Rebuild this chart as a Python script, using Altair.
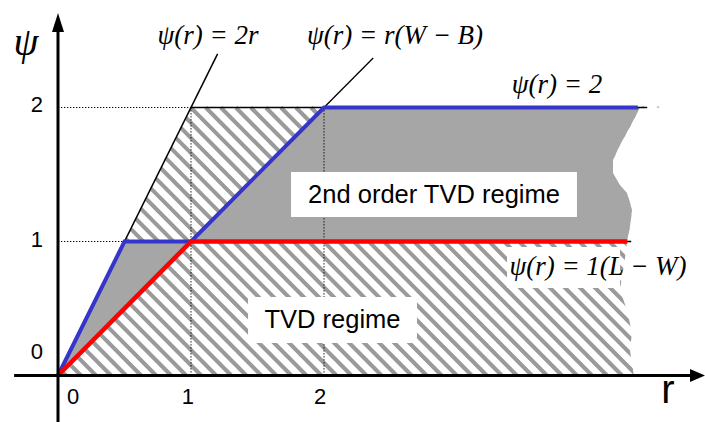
import numpy as np
import pandas as pd
import altair as alt

# ---- data (r, psi) ----------------------------------------------------------
# Sweby diagram: limiter bounds
blue_r = [0.0, 0.5, 1.0, 2.0, 4.36]      # upper bound  psi = r(W-B)
blue_psi = [0.0, 1.0, 1.0, 2.0, 2.0]
red_r = [0.0, 1.0, 4.28]                 # lower bound  psi = 1(L-W)
red_psi = [0.0, 1.0, 1.0]

two_r_r = [0.0, 1.2]                     # psi = 2r guide line
two_r_psi = [0.0, 2.4]
top_r = [1.0, 4.43]                      # psi = 2 guide line
top_psi = [2.0, 2.0]
one_r = [1.0, 4.31]                      # psi = 1 guide line (under red)
one_psi = [1.0, 1.0]
lead_r = [2.0, 2.37]                     # leader towards the r(W-B) label
lead_psi = [2.0, 2.37]

# torn right-hand edge of the shaded regions
edge_psi = [2.0, 1.854, 1.72, 1.608, 1.511, 1.422, 1.362, 1.235, 1.108, 1.0,
            0.85, 0.638, 0.489, 0.317, 0.19, 0.0]
edge_r = [4.376, 4.30, 4.225, 4.173, 4.173, 4.225, 4.278, 4.316, 4.30, 4.278,
          4.26, 4.225, 4.278, 4.316, 4.30, 4.33]

tick_values = [0, 1, 2]
tick_labels = ["0", "1", "2"]

# ---- layout -----------------------------------------------------------------
W, H = 705, 422
OX, OY = 58.0, 375.5          # pixel position of the origin
SX, SY = 133.0, 134.0         # pixels per unit
XDOM = [-OX / SX, (W - OX) / SX]
YDOM = [(OY - H) / SY, OY / SY]

xs = alt.Scale(domain=XDOM, nice=False, zero=False)
ys = alt.Scale(domain=YDOM, nice=False, zero=False)


def X(f):
    return alt.X(f, type="quantitative", scale=xs, axis=None)


def Y(f):
    return alt.Y(f, type="quantitative", scale=ys, axis=None)


# ---- hatching of the TVD region (0 <= psi <= min(2r, 2)) ---------------------
HATCH_STEP = 0.113
cs = np.arange(0.06, 6.6, HATCH_STEP)
hatch = pd.DataFrame({
    "r": cs,
    "psi": 0.0,
    "r2": np.where(cs <= 3, cs / 3, cs - 2),
    "psi2": np.where(cs <= 3, 2 * cs / 3, 2.0),
})
hatch_layer = alt.Chart(hatch).mark_rule(color="#9a9a9a", strokeWidth=4, strokeCap="butt").encode(
    x=X("r"), y=Y("psi"), x2="r2", y2="psi2")

# white area right of the torn edge
mask = pd.DataFrame({"psi": edge_psi, "r": edge_r, "r_far": XDOM[1] + 0.1})
mask_layer = alt.Chart(mask).mark_area(orient="horizontal", color="white", opacity=1).encode(
    y=Y("psi"), x=X("r"), x2="r_far")

# ---- second order region between the blue and red bounds ---------------------
low_st = pd.DataFrame({"psi": [blue_psi[0], blue_psi[1]],
                       "r": [blue_r[0], blue_r[1]],
                       "r2": [red_r[0], red_r[1]]})
up_idx = [i for i, p in enumerate(edge_psi) if p >= 1.0]
up_st = pd.DataFrame({"psi": [edge_psi[i] for i in up_idx],
                      "r": [edge_psi[i] for i in up_idx],   # blue bound r = psi on [1, 2]
                      "r2": [edge_r[i] for i in up_idx]})
STIP = "#a6a6a6"
stip_layers = [
    alt.Chart(d).mark_area(orient="horizontal", color=STIP, opacity=1).encode(
        y=Y("psi"), x=X("r"), x2="r2")
    for d in (low_st, up_st)
]

# ---- dotted guides -----------------------------------------------------------
dots = pd.DataFrame({
    "r": [0.0, 0.0, 1.0, 2.0],
    "psi": [2.0, 1.0, 0.0, 0.0],
    "r2": [1.0, 0.5, 1.0, 2.0],
    "psi2": [2.0, 1.0, 2.0, 2.0],
})
dot_layer = alt.Chart(dots).mark_rule(color="black", strokeWidth=1, strokeDash=[1.3, 1.7]).encode(
    x=X("r"), y=Y("psi"), x2="r2", y2="psi2")

# ---- white label boxes -------------------------------------------------------
boxes = pd.DataFrame({
    "r": [1.752, 1.429, 3.376],
    "r2": [3.902, 2.699, 4.226],
    "psi": [1.519, 0.586, 0.959],
    "psi2": [1.183, 0.243, 0.653],
})
box_layer = alt.Chart(boxes).mark_rect(color="white", opacity=1).encode(
    x=X("r"), x2="r2", y=Y("psi"), y2="psi2")


# ---- curves ------------------------------------------------------------------
def polyline(rv, pv, **kw):
    d = pd.DataFrame({"r": rv, "psi": pv, "i": range(len(rv))})
    return alt.Chart(d).mark_line(strokeCap="butt", strokeJoin="miter", **kw).encode(
        x=X("r"), y=Y("psi"), order="i:Q")


black_layers = [
    polyline(two_r_r, two_r_psi, color="black", strokeWidth=1.5),
    polyline(top_r, top_psi, color="black", strokeWidth=1.6),
    polyline(one_r, one_psi, color="black", strokeWidth=1.6),
    polyline(lead_r, lead_psi, color="black", strokeWidth=1.3),
]
blue_layer = polyline(blue_r, blue_psi, color="#3535cc", strokeWidth=4)
red_layer = polyline(red_r, red_psi, color="#ff0000", strokeWidth=4.6)

# ---- axes --------------------------------------------------------------------
axes = pd.DataFrame({
    "r": [0.0, -0.33],
    "psi": [YDOM[0], 0.0],
    "r2": [0.0, (690 - OX) / SX],
    "psi2": [(OY - 30) / SY, 0.0],
})
axes_layer = alt.Chart(axes).mark_rule(color="black", strokeWidth=3).encode(
    x=X("r"), y=Y("psi"), x2="r2", y2="psi2")

arrow_up = alt.Chart(pd.DataFrame({"r": [0.0], "psi": [(OY - 22.5) / SY]})).mark_point(
    shape="M0,-1L0.63,1L-0.63,1Z", size=361, filled=True, color="black", opacity=1
).encode(x=X("r"), y=Y("psi"))
arrow_right = alt.Chart(pd.DataFrame({"r": [(697.5 - OX) / SX], "psi": [0.0]})).mark_point(
    shape="M1,0L-1,-0.87L-1,0.87Z", size=225, filled=True, color="black", opacity=1
).encode(x=X("r"), y=Y("psi"))

# tick labels (the psi = 0 label sits above the r axis, the r = 0 label right of the psi axis)
ytk = pd.DataFrame({"t": tick_labels,
                    "r": [-0.158] * 3,
                    "psi": [v + d for v, d in zip(tick_values, [0.172, 0.012, 0.02])]})
xtk = pd.DataFrame({"t": tick_labels,
                    "r": [v + d for v, d in zip(tick_values, [0.113, -0.023, -0.03])],
                    "psi": [-0.162] * 3})
tick_layer = alt.Chart(pd.concat([ytk, xtk])).mark_text(
    font="Liberation Sans", fontSize=22, align="center", baseline="middle"
).encode(x=X("r"), y=Y("psi"), text="t:N")

# axis titles
psi_title = alt.Chart(pd.DataFrame({"r": [-0.241], "psi": [2.481], "t": ["ψ"]})).mark_text(
    font="Liberation Serif", fontStyle="italic", fontSize=40, align="center", baseline="middle"
).encode(x=X("r"), y=Y("psi"), text="t:N")
r_title = alt.Chart(pd.DataFrame({"r": [4.586], "psi": [-0.205], "t": ["r"]})).mark_text(
    font="Liberation Sans", fontSize=40, align="center", baseline="alphabetic"
).encode(x=X("r"), y=Y("psi"), text="t:N")

# formula labels
formulas = pd.DataFrame({
    "t": ["ψ(r) = 2r", "ψ(r) = r(W − B)", "ψ(r) = 2", "ψ(r) = 1(L − W)"],
    "r": [1.128, 2.534, 3.752, 4.06],
    "psi": [2.53, 2.53, 2.17, 0.81],
})
formula_layer = alt.Chart(formulas).mark_text(
    font="Liberation Serif", fontStyle="italic", fontSize=27, align="center", baseline="middle"
).encode(x=X("r"), y=Y("psi"), text="t:N")

# region names
regions = pd.DataFrame({
    "t": ["2nd order TVD regime", "TVD regime"],
    "r": [2.827, 2.064],
    "psi": [1.345, 0.414],
})
region_layer = alt.Chart(regions).mark_text(
    font="Liberation Sans", fontSize=25.5, align="center", baseline="middle"
).encode(x=X("r"), y=Y("psi"), text="t:N")

chart = alt.layer(
    hatch_layer, mask_layer, *stip_layers, dot_layer, box_layer,
    *black_layers, blue_layer, red_layer,
    axes_layer, arrow_up, arrow_right, tick_layer,
    psi_title, r_title, formula_layer, region_layer,
).properties(
    width=W, height=H, padding=0, background="white",
    autosize=alt.AutoSizeParams(type="none"),
).configure_view(stroke=None)

chart.save("out.html", embed_options={"renderer": "svg", "actions": False})
